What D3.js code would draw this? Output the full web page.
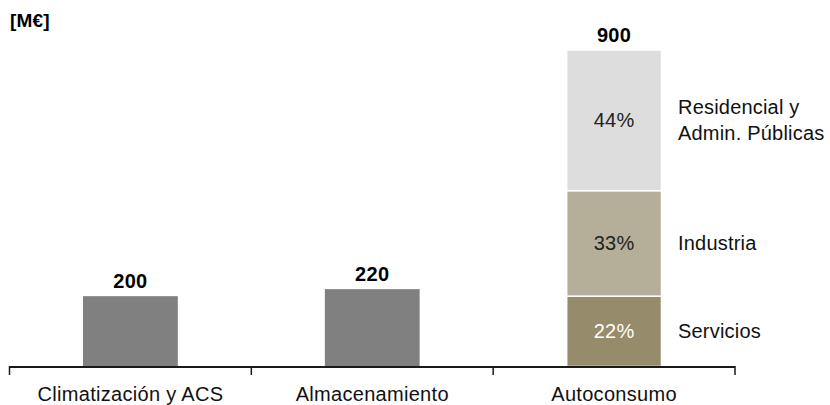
<!DOCTYPE html>
<html><head><meta charset="utf-8">
<script src="https://cdn.jsdelivr.net/npm/d3@7"></script>
<style>body{margin:0;background:#fff}svg{display:block}text{font-family:"Liberation Sans",Arial,sans-serif}</style>
</head><body><svg id="c" width="830" height="405"></svg>
<script>
const categories = ["Climatización y ACS", "Almacenamiento", "Autoconsumo"];
const totals = [200, 220, 900];
const stackSegments = ["Servicios", "Industria", "Residencial y\nAdmin. Públicas"];
const stackValues = [200, 300, 400];
const stackColors = ["#968b6b", "#b5ae98", "#dddddd"];
const stackLabelColors = ["#ffffff", "#222222", "#222222"];
const plainColor = "#808080";
const unitLabel = "[M€]";

const svg = d3.select("#c");
const x = d3.scaleBand().domain(categories).range([9.5, 735]).padding(0);
const y = d3.scaleLinear().domain([0, 900]).range([366.5, 50]);
const barW = x.bandwidth() * 0.392;

function txt(g, tx, ty, s, opts) {
  return g.append("text")
    .attr("x", tx).attr("y", ty)
    .attr("text-anchor", opts.anchor || "middle")
    .attr("font-size", opts.size || 20)
    .attr("font-weight", opts.weight || "normal")
    .attr("letter-spacing", opts.ls || 0.2)
    .attr("fill", opts.fill || "#111")
    .text(s);
}

categories.forEach((c, i) => {
  const cx = x(c) + x.bandwidth() / 2;
  if (i < 2) {
    svg.append("rect").attr("x", cx - barW / 2).attr("width", barW)
      .attr("y", y(totals[i])).attr("height", y(0) - y(totals[i])).attr("fill", plainColor);
  } else {
    let base = 0;
    stackValues.forEach((v, j) => {
      svg.append("rect").attr("x", cx - barW / 2).attr("width", barW)
        .attr("y", y(base + v)).attr("height", y(base) - y(base + v))
        .attr("fill", stackColors[j]).attr("stroke", "#fff").attr("stroke-width", 1.5);
      const mid = (y(base) + y(base + v)) / 2;
      const pct = Math.floor(v / totals[i] * 100) + "%";
      txt(svg, cx, mid + 7, pct, {fill: stackLabelColors[j]});
      const lines = stackSegments[j].split("\n");
      lines.forEach((ln, k) => {
        const off = (k - (lines.length - 1) / 2) * 26;
        txt(svg, 678, mid + 7 + off, ln, {anchor: "start"});
      });
      base += v;
    });
  }
  txt(svg, cx, y(totals[i]) - 8.5, totals[i], {weight: "bold", fill: "#000", ls: 0.3});
  txt(svg, cx, 401, c, {ls: 0.3});
});

svg.append("line").attr("x1", 9.5).attr("x2", 735).attr("y1", 367).attr("y2", 367)
  .attr("stroke", "#1a1a1a").attr("stroke-width", 2);
const edges = categories.map(c => x(c)).concat([x.range()[1]]);
edges.forEach(e => {
  svg.append("line").attr("x1", e).attr("x2", e).attr("y1", 366).attr("y2", 375)
    .attr("stroke", "#1a1a1a").attr("stroke-width", 1.5);
});

txt(svg, 10, 27, unitLabel, {anchor: "start", weight: "bold", size: 19, fill: "#000", ls: 0});
</script></body></html>
